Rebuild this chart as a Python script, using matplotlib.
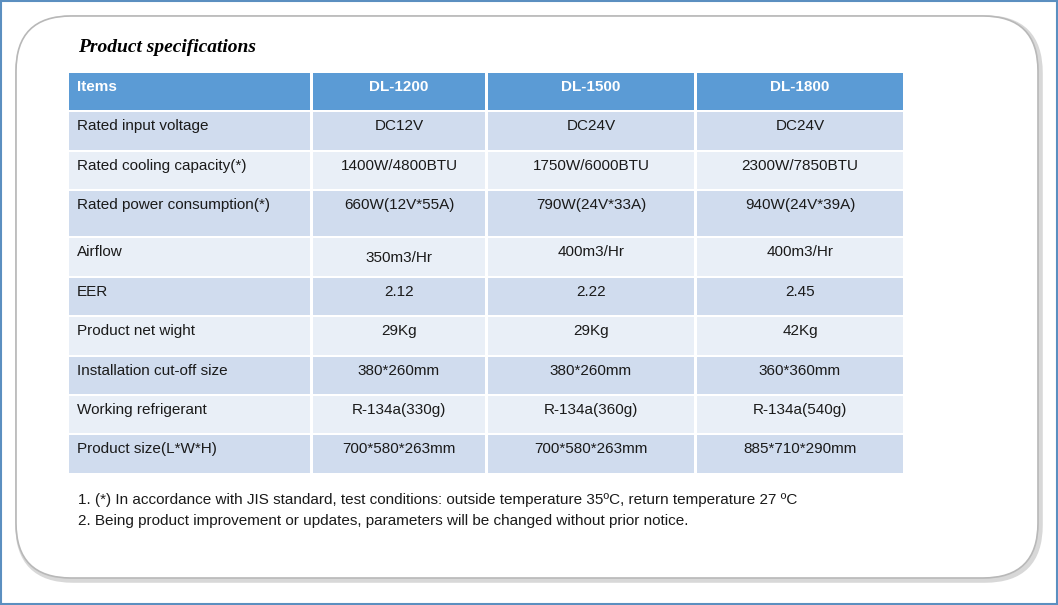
import matplotlib
matplotlib.use("Agg")
import matplotlib.pyplot as plt
from matplotlib.patches import Rectangle, FancyBboxPatch

title = "Product specifications"
header = ["Items", "DL-1200", "DL-1500", "DL-1800"]
items = ["Rated input voltage", "Rated cooling capacity(*)", "Rated power consumption(*)",
         "Airflow", "EER", "Product net wight", "Installation cut-off size",
         "Working refrigerant", "Product size(L*W*H)"]
dl1200 = ["DC12V", "1400W/4800BTU", "660W(12V*55A)", "350m3/Hr", "2.12", "29Kg",
          "380*260mm", "R-134a(330g)", "700*580*263mm"]
dl1500 = ["DC24V", "1750W/6000BTU", "790W(24V*33A)", "400m3/Hr", "2.22", "29Kg",
          "380*260mm", "R-134a(360g)", "700*580*263mm"]
dl1800 = ["DC24V", "2300W/7850BTU", "940W(24V*39A)", "400m3/Hr", "2.45", "42Kg",
          "360*360mm", "R-134a(540g)", "885*710*290mm"]
notes = ["1. (*) In accordance with JIS standard, test conditions: outside temperature 35ºC, return temperature 27 ºC",
         "2. Being product improvement or updates, parameters will be changed without prior notice."]

W, H = 1058, 605
fig = plt.figure(figsize=(W/100, H/100), dpi=100)
ax = fig.add_axes([0, 0, 1, 1])
ax.set_xlim(0, W); ax.set_ylim(H, 0); ax.axis("off")
fig.patch.set_facecolor("white")

# outer frame
ax.add_patch(Rectangle((0.5, 0.5), W-1.5, H-1.5, fill=False, ec="#5b8fc0", lw=1.5))
# rounded panel with shadow
ax.add_patch(FancyBboxPatch((18, 18), W-36, H-43, boxstyle="round,pad=0,rounding_size=55",
                            fc="none", ec="#d8d8d8", lw=4))
ax.add_patch(FancyBboxPatch((16, 16), W-36, H-43, boxstyle="round,pad=0,rounding_size=55",
                            fc="white", ec="#b8b8b8", lw=1.2))

ax.text(78, 47, title, family="Liberation Serif", weight="bold", style="italic",
        fontsize=14, va="center", ha="left", color="black")

cols = [(69, 310), (313, 485), (488, 694), (697, 903)]
rows = [(112, 150), (152, 189), (191, 236), (238, 276), (278, 315),
        (317, 355), (357, 394), (396, 433), (435, 473)]
font = "Liberation Sans"
fs = 11

# header
for (x0, x1), h in zip(cols, header):
    ax.add_patch(Rectangle((x0, 73), x1-x0, 37, fc="#5b9bd5", ec="none"))
    if h == "Items":
        ax.text(x0+8, 87, h, family=font, weight="bold", color="white", fontsize=fs, va="center")
    else:
        ax.text((x0+x1)/2, 87, h, family=font, weight="bold", color="white", fontsize=fs,
                va="center", ha="center")

for i, (y0, y1) in enumerate(rows):
    fc = "#d0dcee" if i % 2 == 0 else "#e9eff7"
    vals = [items[i], dl1200[i], dl1500[i], dl1800[i]]
    for j, ((x0, x1), v) in enumerate(zip(cols, vals)):
        ax.add_patch(Rectangle((x0, y0), x1-x0, y1-y0, fc=fc, ec="none"))
        ty = y0 + 14
        if i == 3 and j == 1:
            ty = y0 + 20
        if j == 0:
            ax.text(x0+8, ty, v, family=font, fontsize=fs, va="center", ha="left", color="#1a1a1a")
        else:
            ax.text((x0+x1)/2, ty, v, family=font, fontsize=fs, va="center", ha="center", color="#1a1a1a")

ax.text(78, 500, notes[0], family=font, fontsize=fs, va="center", ha="left", color="#1a1a1a")
ax.text(78, 521, notes[1], family=font, fontsize=fs, va="center", ha="left", color="#1a1a1a")

fig.savefig("out.png", dpi=100)
